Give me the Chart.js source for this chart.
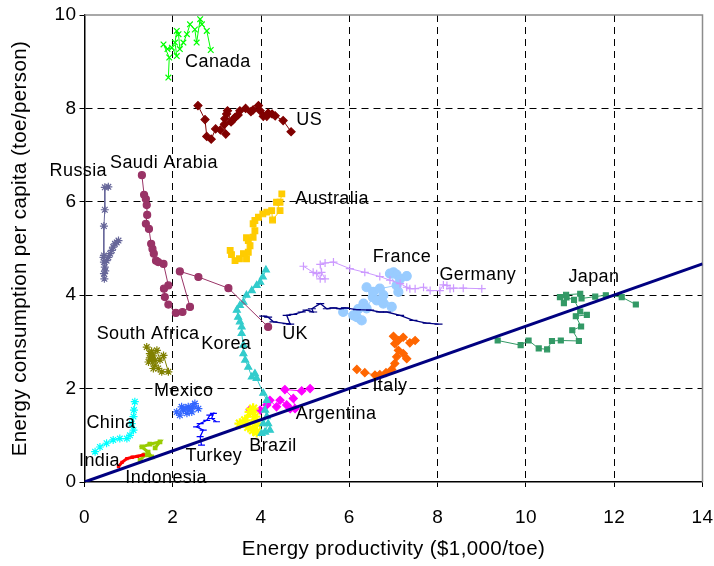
<!DOCTYPE html>
<html>
<head>
<meta charset="utf-8">
<script src="https://cdn.jsdelivr.net/npm/chart.js@4/dist/chart.umd.min.js"></script>
<style>
  html, body { margin: 0; padding: 0; background: #ffffff; }
  #c { display: block; }
</style>
</head>
<body>
<canvas id="c" width="714" height="566"></canvas>
<script>
// Energy productivity ($1,000/toe) vs energy consumption per capita (toe/person), by country over time
const canadaX = [1.90, 1.92, 1.79, 1.88, 1.98, 2.09, 2.05, 2.09, 2.13, 2.16, 2.24, 2.32, 2.39, 2.50, 2.54, 2.62, 2.66, 2.77, 2.86];
const canadaY = [8.66, 9.09, 9.37, 9.27, 9.30, 9.12, 9.41, 9.66, 9.59, 9.27, 9.41, 9.59, 9.80, 9.69, 9.41, 9.91, 9.80, 9.66, 9.25];

const usX = [2.57, 2.73, 2.77, 2.87, 2.97, 3.08, 3.20, 3.17, 3.18, 3.22, 3.24, 3.32, 3.37, 3.41, 3.48, 3.52, 3.65, 3.77, 3.82, 3.94, 3.98, 4.05, 4.13, 4.16, 4.25, 4.32, 4.50, 4.68];
const usY = [8.06, 7.76, 7.40, 7.34, 7.56, 7.54, 7.45, 7.66, 7.78, 7.88, 7.95, 7.71, 7.76, 7.81, 7.86, 7.95, 8.00, 7.93, 7.97, 8.06, 7.95, 7.83, 7.83, 7.90, 7.88, 7.84, 7.74, 7.50];

const saudiX = [1.30, 1.35, 1.39, 1.41, 1.42, 1.39, 1.46, 1.51, 1.54, 1.57, 1.62, 1.67, 1.79, 1.90, 1.80, 1.82, 1.90, 2.07, 2.22, 2.39, 2.16, 2.58, 3.26, 4.16];
const saudiY = [6.57, 6.15, 6.06, 5.93, 5.72, 5.53, 5.42, 5.10, 4.99, 4.89, 4.74, 4.71, 4.67, 4.21, 4.14, 3.96, 3.80, 3.62, 3.64, 3.75, 4.51, 4.39, 4.15, 3.32];

const russiaX = [0.54, 0.46, 0.46, 0.44, 0.44, 0.43, 0.44, 0.46, 0.44, 0.45, 0.47, 0.50, 0.54, 0.58, 0.62, 0.65, 0.69, 0.73, 0.77];
const russiaY = [6.32, 6.31, 5.83, 5.48, 4.85, 4.81, 4.71, 4.60, 4.46, 4.35, 4.52, 4.74, 4.81, 4.89, 4.96, 5.03, 5.10, 5.13, 5.17];

const australiaX = [3.30, 3.33, 3.41, 3.51, 3.60, 3.67, 3.71, 3.75, 3.71, 3.67, 3.82, 3.86, 3.82, 3.86, 3.94, 4.04, 4.13, 4.24, 4.26, 4.43, 4.35, 4.43, 4.47];
const australiaY = [4.96, 4.87, 4.74, 4.78, 4.89, 4.78, 4.92, 5.06, 5.17, 5.23, 5.24, 5.38, 5.53, 5.60, 5.67, 5.74, 5.78, 5.81, 5.61, 5.81, 5.99, 5.99, 6.17];

const koreaX = [4.11, 4.04, 3.98, 3.90, 3.79, 3.67, 3.60, 3.52, 3.45, 3.48, 3.52, 3.56, 3.56, 3.60, 3.60, 3.64, 3.71, 3.79, 3.86, 3.90, 4.05, 4.13, 4.09, 4.13, 4.05, 4.16, 4.09, 4.01, 4.20];
const koreaY = [4.54, 4.39, 4.28, 4.21, 4.10, 4.00, 3.85, 3.78, 3.68, 3.53, 3.43, 3.32, 3.18, 2.93, 2.75, 2.61, 2.46, 2.25, 2.32, 2.22, 1.90, 1.75, 1.54, 1.40, 1.25, 1.25, 1.07, 1.04, 1.11];

const ukX = [4.05, 4.16, 4.28, 4.58, 4.66, 4.58, 4.73, 4.92, 5.03, 5.18, 5.15, 5.34, 5.49, 5.64, 5.79, 5.90, 6.17, 6.47, 6.69, 6.85, 7.15, 7.45, 7.75, 8.02];
const ukY = [3.55, 3.53, 3.43, 3.39, 3.38, 3.57, 3.59, 3.64, 3.68, 3.64, 3.71, 3.82, 3.71, 3.73, 3.71, 3.73, 3.69, 3.68, 3.64, 3.64, 3.57, 3.46, 3.40, 3.38];

const germanyX = [4.96, 5.18, 5.26, 5.34, 5.45, 5.37, 5.34, 5.45, 5.64, 6.01, 6.35, 6.69, 6.92, 7.15, 7.30, 7.37, 7.49, 7.68, 7.83, 8.05, 8.13, 8.21, 8.28, 8.36, 8.58, 9.00];
const germanyY = [4.62, 4.49, 4.46, 4.35, 4.35, 4.49, 4.66, 4.69, 4.71, 4.57, 4.49, 4.40, 4.32, 4.25, 4.17, 4.14, 4.14, 4.17, 4.10, 4.10, 4.22, 4.21, 4.14, 4.15, 4.15, 4.14];

const franceX = [5.86, 6.09, 6.17, 6.28, 6.20, 6.32, 6.39, 6.53, 6.54, 6.39, 6.62, 6.77, 6.96, 6.77, 6.69, 7.07, 7.11, 6.92, 7.00, 7.07, 7.30, 7.15];
const franceY = [3.64, 3.57, 3.53, 3.46, 3.70, 3.82, 3.72, 3.96, 4.07, 4.17, 3.89, 3.82, 3.75, 4.00, 4.14, 4.21, 4.07, 4.46, 4.49, 4.44, 4.41, 4.35];

const italyX = [6.17, 6.35, 6.58, 6.69, 6.83, 6.96, 7.03, 7.07, 7.22, 7.30, 7.11, 7.03, 7.00, 7.11, 7.22, 7.37, 7.49];
const italyY = [2.41, 2.34, 2.29, 2.30, 2.34, 2.41, 2.54, 2.68, 2.75, 2.64, 2.82, 2.96, 3.12, 3.03, 3.10, 2.98, 3.03];

const japanX = [9.36, 9.88, 10.06, 10.29, 10.48, 10.59, 10.79, 11.20, 11.05, 11.25, 11.13, 11.38, 11.23, 11.09, 10.92, 10.77, 10.86, 10.91, 11.23, 11.26, 11.57, 11.81, 12.17, 12.49];
const japanY = [3.03, 2.93, 3.03, 2.86, 2.84, 3.02, 3.03, 3.02, 3.25, 3.33, 3.55, 3.58, 3.65, 3.90, 3.95, 3.96, 3.83, 4.01, 4.03, 3.93, 3.97, 4.00, 3.96, 3.80];

const southAfricaX = [1.41, 1.48, 1.45, 1.52, 1.56, 1.60, 1.67, 1.75, 1.90, 1.79, 1.71, 1.64, 1.56, 1.60, 1.52, 1.48];
const southAfricaY = [2.89, 2.75, 2.57, 2.61, 2.43, 2.50, 2.43, 2.36, 2.36, 2.71, 2.61, 2.82, 2.70, 2.60, 2.80, 2.66];

const mexicoX = [2.09, 2.16, 2.20, 2.24, 2.32, 2.35, 2.39, 2.43, 2.50, 2.58, 2.45, 2.28];
const mexicoY = [1.50, 1.43, 1.61, 1.54, 1.47, 1.61, 1.57, 1.50, 1.68, 1.57, 1.62, 1.58];

const turkeyX = [2.65, 2.62, 2.69, 2.54, 2.62, 2.77, 2.84, 2.92, 2.88, 2.99];
const turkeyY = [0.79, 0.97, 1.11, 1.18, 1.25, 1.32, 1.43, 1.47, 1.36, 1.29];

const chinaX = [0.24, 0.35, 0.50, 0.65, 0.80, 0.96, 1.03, 1.11, 1.07, 1.11, 1.12, 1.14];
const chinaY = [0.65, 0.75, 0.83, 0.90, 0.93, 0.93, 1.00, 1.11, 1.25, 1.40, 1.54, 1.72];

const indiaX = [0.77, 0.85, 0.96, 1.08, 1.20, 1.33];
const indiaY = [0.33, 0.42, 0.50, 0.53, 0.55, 0.58];

const indonesiaX = [1.26, 1.37, 1.52, 1.44, 1.30, 1.48, 1.71, 1.60];
const indonesiaY = [0.47, 0.58, 0.54, 0.64, 0.75, 0.81, 0.86, 0.73];

const brazilX = [3.52, 3.64, 3.75, 3.82, 3.86, 3.71, 3.82, 3.90, 3.90];
const brazilY = [1.25, 1.32, 1.50, 1.57, 1.40, 1.18, 1.11, 1.25, 1.07];

const argentinaX = [3.75, 3.98, 4.13, 4.20, 4.35, 4.43, 4.58, 4.66, 4.77, 4.73, 4.54, 4.92, 5.11];
const argentinaY = [1.55, 1.54, 1.65, 1.75, 1.61, 1.75, 1.65, 1.57, 1.57, 1.79, 1.98, 1.95, 2.00];

// reference line through the origin
const trendX = [0, 14];
const trendY = [0, 4.67];

// axis ticks
const xTicks = [0, 2, 4, 6, 8, 10, 12, 14];
const yTicks = [0, 2, 4, 6, 8, 10];

// country name annotations, anchored in data units
const countryLabels = ['Canada', 'US', 'Russia', 'Saudi Arabia', 'Australia', 'France', 'Germany', 'Japan', 'UK',
  'South Africa', 'Korea', 'Italy', 'Mexico', 'Argentina', 'China', 'Brazil', 'Turkey', 'India', 'Indonesia'];
const labelAnchorX = [3.02, 5.09, -0.14, 1.80, 5.61, 7.19, 8.91, 11.54, 4.77, 1.44, 3.21, 6.92, 2.25, 5.70, 0.60, 4.27, 2.93, 0.34, 1.85];
const labelAnchorY = [8.99, 7.76, 6.65, 6.82, 6.05, 4.81, 4.44, 4.38, 3.16, 3.16, 2.95, 2.05, 1.94, 1.45, 1.26, 0.77, 0.56, 0.44, 0.08];

const FONT = "'Liberation Sans', Arial, sans-serif";

function pts(xs, ys) { return xs.map((x, i) => ({ x: x, y: ys[i] })); }

function series(label, xs, ys, color, style, radius, width, markerWidth) {
  return {
    label: label,
    data: pts(xs, ys),
    showLine: true,
    borderColor: color,
    backgroundColor: color,
    borderWidth: width || 1,
    pointStyle: style,
    pointRadius: radius,
    pointBorderColor: color,
    pointBackgroundColor: color,
    pointBorderWidth: markerWidth || 1.2,
    pointHoverRadius: radius
  };
}

const datasets = [
  {
    label: 'Reference',
    data: pts(trendX, trendY),
    showLine: true,
    borderColor: '#000080',
    borderWidth: 3,
    pointRadius: 0,
    pointHoverRadius: 0
  },
  series('Canada', canadaX, canadaY, '#00FF00', 'crossRot', 4),
  series('US', usX, usY, '#800000', 'rectRot', 4),
  series('Saudi Arabia', saudiX, saudiY, '#993366', 'circle', 3.5),
  series('Russia', russiaX, russiaY, '#666699', 'star', 4),
  series('Australia', australiaX, australiaY, '#FFCC00', 'rect', 4),
  series('Korea', koreaX, koreaY, '#33CCCC', 'triangle', 4),
  series('UK', ukX, ukY, '#000080', 'line', 4, 1.3),
  series('Germany', germanyX, germanyY, '#CC99FF', 'cross', 4),
  series('France', franceX, franceY, '#99CCFF', 'circle', 4.5),
  series('Italy', italyX, italyY, '#FF6600', 'rectRot', 4),
  series('Japan', japanX, japanY, '#339966', 'rect', 3.5),
  series('South Africa', southAfricaX, southAfricaY, '#808000', 'star', 4),
  series('Mexico', mexicoX, mexicoY, '#3366FF', 'star', 4),
  series('Turkey', turkeyX, turkeyY, '#0000FF', 'line', 3.5, 1.3),
  series('China', chinaX, chinaY, '#00FFFF', 'star', 4),
  series('India', indiaX, indiaY, '#FF0000', 'rect', 1.5, 3),
  series('Indonesia', indonesiaX, indonesiaY, '#99CC00', 'rect', 2.5, 3),
  series('Brazil', brazilX, brazilY, '#FFFF00', 'star', 5.5, 3, 2.2),
  series('Argentina', argentinaX, argentinaY, '#FF00FF', 'rectRot', 4)
];

// slightly open text spacing for every label drawn on the canvas
const spacingPlugin = {
  id: 'spacing',
  beforeDraw(chart) { chart.ctx.letterSpacing = '0.4px'; }
};

// grey frame on the top and right of the plot area
const framePlugin = {
  id: 'frame',
  beforeDatasetsDraw(chart) {
    const { ctx, chartArea: a } = chart;
    ctx.save();
    ctx.strokeStyle = '#8c8c8c';
    ctx.lineWidth = 1.5;
    ctx.setLineDash([]);
    ctx.beginPath();
    ctx.moveTo(a.left, a.top);
    ctx.lineTo(a.right, a.top);
    ctx.lineTo(a.right, a.bottom);
    ctx.stroke();
    ctx.restore();
  }
};

// country names next to their tracks
const namePlugin = {
  id: 'names',
  afterDatasetsDraw(chart) {
    const { ctx, scales } = chart;
    ctx.save();
    ctx.font = '18px ' + FONT;
    ctx.fillStyle = '#000000';
    ctx.textAlign = 'center';
    ctx.textBaseline = 'middle';
    countryLabels.forEach((t, i) => {
      ctx.fillText(t, scales.x.getPixelForValue(labelAnchorX[i]), scales.y.getPixelForValue(labelAnchorY[i]));
    });
    ctx.restore();
  }
};

function gridColor(c) {
  const v = c.tick ? c.tick.value : null;
  if (v === 0 || v === c.scale.max) return 'rgba(0,0,0,0)';
  return '#000000';
}

new Chart(document.getElementById('c'), {
  type: 'scatter',
  data: { datasets: datasets },
  options: {
    responsive: false,
    devicePixelRatio: 1,
    animation: false,
    layout: { padding: { top: 15, right: 11.5, bottom: 0, left: 0 } },
    plugins: {
      legend: { display: false },
      tooltip: { enabled: false }
    },
    scales: {
      x: {
        type: 'linear',
        min: xTicks[0],
        max: xTicks[xTicks.length - 1],
        afterBuildTicks(scale) { scale.ticks = xTicks.map(v => ({ value: v })); },
        afterFit(scale) { scale.height = 84; scale.paddingLeft = 0; scale.paddingRight = 0; },
        ticks: { font: { family: FONT, size: 19 }, color: '#000000', padding: 19, maxRotation: 0 },
        grid: { color: gridColor, lineWidth: 1, tickColor: '#000000', tickLength: 5, tickWidth: 1 },
        border: { display: true, color: '#000000', width: 1.5, dash: [7, 5] },
        title: { display: true, text: 'Energy productivity ($1,000/toe)', font: { family: FONT, size: 20.5 }, color: '#000000', padding: { top: 0, bottom: 4 } }
      },
      y: {
        type: 'linear',
        min: yTicks[0],
        max: yTicks[yTicks.length - 1],
        afterBuildTicks(scale) { scale.ticks = yTicks.map(v => ({ value: v })); },
        afterFit(scale) { scale.width = 84.5; scale.paddingTop = 0; scale.paddingBottom = 0; },
        ticks: { font: { family: FONT, size: 19 }, color: '#000000', padding: 3 },
        grid: { color: gridColor, lineWidth: 1, tickColor: '#000000', tickLength: 5, tickWidth: 1 },
        border: { display: true, color: '#000000', width: 1.5, dash: [7, 5] },
        title: { display: true, text: 'Energy consumption per capita (toe/person)', font: { family: FONT, size: 20.5 }, color: '#000000', padding: { top: 8, bottom: 0 } }
      }
    }
  },
  plugins: [spacingPlugin, framePlugin, namePlugin]
});
</script>
</body>
</html>
